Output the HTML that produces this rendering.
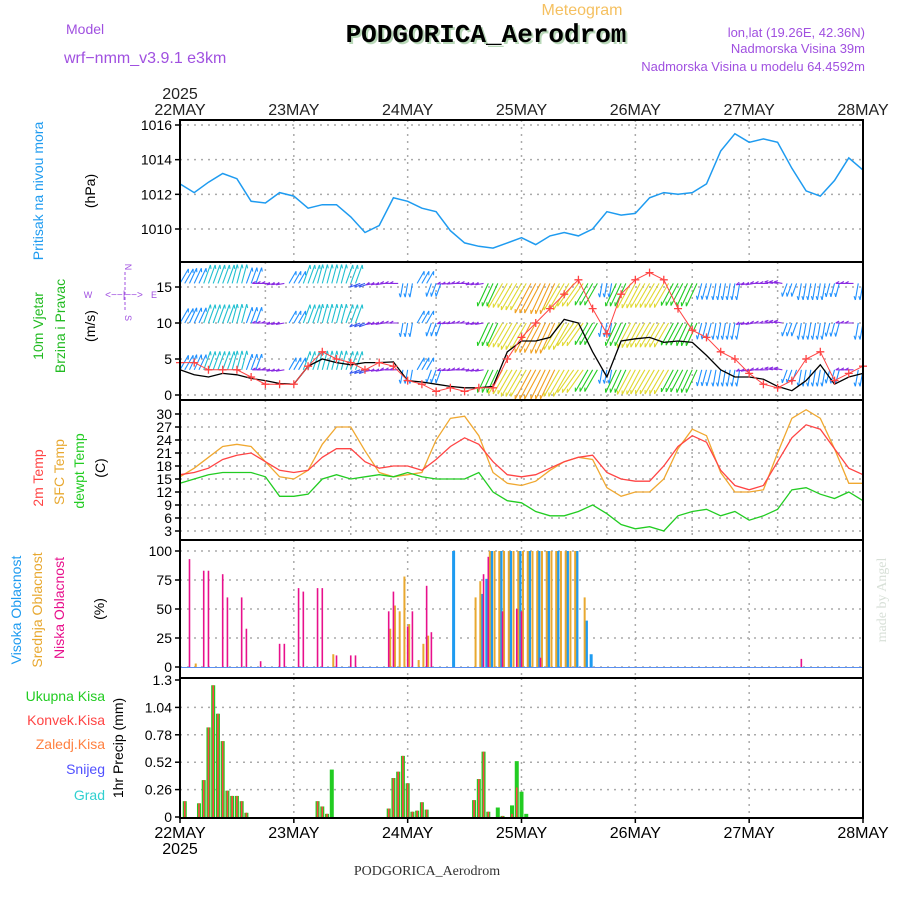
<!DOCTYPE html>
<html><head><meta charset="utf-8"><style>
html,body{margin:0;padding:0;background:#fff;}
svg{display:block;font-family:"Liberation Sans",sans-serif;}
</style></head><body>
<svg id="chart" width="900" height="900" viewBox="0 0 900 900" xmlns="http://www.w3.org/2000/svg">
<rect x="0" y="0" width="900" height="900" fill="#fff"/>
<text x="582" y="15" font-size="16" fill="#f5c060" text-anchor="middle">Meteogram</text>
<text x="66" y="34" font-size="14" fill="#a050e0">Model</text>
<text x="64" y="63" font-size="16" fill="#a050e0">wrf−nmm_v3.9.1  e3km</text>
<text x="488" y="44" font-size="26" font-weight="bold" fill="#b8d8b8" text-anchor="middle" font-family="Liberation Mono, monospace">PODGORICA_Aerodrom</text>
<text x="486" y="42" font-size="26" font-weight="bold" fill="#000" text-anchor="middle" font-family="Liberation Mono, monospace">PODGORICA_Aerodrom</text>
<text x="865" y="37" font-size="13" fill="#a050e0" text-anchor="end">lon,lat (19.26E, 42.36N)</text>
<text x="865" y="53" font-size="13" fill="#a050e0" text-anchor="end">Nadmorska Visina 39m</text>
<text x="865" y="71" font-size="13" fill="#a050e0" text-anchor="end">Nadmorska Visina u modelu 64.4592m</text>
<g id="grid"></g>
<g id="marks"></g>
<g id="frames"></g>
<g id="labels"></g>
</svg>
<script>
const days = ["22MAY","23MAY","24MAY","25MAY","26MAY","27MAY","28MAY"];
const pressure = [1012.6,1012.1,1012.7,1013.2,1012.9,1011.6,1011.5,1012.1,1011.9,1011.2,1011.4,1011.4,1010.7,1009.8,1010.2,1011.8,1011.6,1011.2,1011,1009.9,1009.2,1009,1008.9,1009.2,1009.5,1009.1,1009.6,1009.8,1009.6,1010,1011,1010.8,1010.9,1011.8,1012.1,1012,1012.1,1012.6,1014.5,1015.5,1015,1015.2,1015,1013.5,1012.2,1011.9,1012.8,1014.1,1013.4];
const temp2m = [16,16.5,17.5,19.5,20.5,21,19,17,16.5,17,20,22,22,19,17.5,18,18,17,19.5,22.5,24.5,23,19,16,15.5,16,17.5,19,20,20.5,16.5,15,14.5,14.5,18,22.5,25,23.5,17,13.5,12.5,13.5,19,24.5,27.5,26.5,22,17.5,16];
const tempSfc = [15.5,17.5,20,22.5,23,22.5,19,15.5,15,17,23,27,27,21.5,16.5,15.5,16,16.5,24,29,29.5,25,16.5,14,13.5,14.5,17,19,20,19.5,13,11,12,12,15,22,26.5,25,16.5,12,12,12.5,21,29,31,29,22,14,14];
const dewpt = [14,15,16,16.5,16.5,16.5,15.5,11,11,11.5,15,16,15,15.5,16,15.5,16.5,15.5,15,15,15,16.5,12,10,9.5,7.5,6.5,6.5,7.5,9,7,4.5,3.5,4,3,6.5,7.5,8,6.5,7.5,5.5,6.5,8,12.5,13,11.5,10.5,12,10];
const windSpeed = [3.5,2.8,2.5,3,2.8,2.3,2,1.6,1.5,4,5,4.5,4.2,4.5,4.5,4.6,2,1.8,1.5,1.2,1,1,1.2,6,7.5,7.5,8,10.5,10,6,2.5,7.5,7.8,8,7.3,7.5,7.3,5.5,3.5,2.5,2.5,2.2,1.2,0.6,2,4.2,1.5,2.5,3];
const windGust = [4.5,4.5,3.5,3.5,3.5,2.5,1.5,1.5,1.5,4,6,5,4.5,3.5,4.5,4,2,1.5,0.5,1,0.5,1,1,5,8,10,12,14,16,12,8.5,14,16,17,16,12,9,8,6,5,3,1.5,1,2,5,6,2,3,4];
const windDir = [-60,-65,-70,-70,-75,-70,180,170,-60,-70,-75,-75,-70,160,170,180,100,-60,110,175,180,170,115,120,120,118,115,120,125,120,100,115,118,120,120,118,115,105,100,100,170,180,-170,110,100,100,105,180,100];
const windMag = [6,6,7,7,7,6,3,3,5,7,7,7,7,4,3,3,5,5,5,3,3,3,9,10,11,12,12,11,10,9,5,9,10,10,10,9,9,6,6,6,3,3,3,5,6,6,5,3,6];
const cloudLowHours = [2,5,6,9,10,13,14,17,21,22,25,26,29,30,33,36,37,44,45,48,49,52,53,64,65,68,71,72,76,131];
const cloudLow = [93,83,83,80,60,60,33,5,20,20,68,65,68,68,10,10,10,48,65,35,48,70,30,80,95,48,50,48,8,7];
const cloudMidHours = [3,32,44,45,46,47,48,50,51,52,62,63,65,66,67,68,69,70,71,72,73,74,75,76,77,78,79,80,81,82,83,85];
const cloudMid = [3,11,33,53,48,78,37,6,20,27,60,74,100,100,100,100,100,100,100,100,100,100,100,100,100,100,100,100,100,100,100,60];
const cloudHighHours = [58,64,65,66,68,70,72,74,76,78,80,82,84,86,87];
const cloudHigh = [100,63,76,100,100,100,100,100,100,100,100,100,100,40,11];
const precipHours = [1,4,5,6,7,8,9,10,11,12,13,14,29,30,31,32,44,45,46,47,48,49,50,51,52,62,63,64,65,67,68,70,71,72,73];
const precipTotal = [0.15,0.13,0.35,0.85,1.25,0.98,0.72,0.25,0.2,0.2,0.15,0.04,0.15,0.1,0.03,0.45,0.08,0.37,0.43,0.58,0.32,0.05,0.06,0.14,0.07,0.16,0.36,0.62,0.05,0.09,0.01,0.11,0.53,0.24,0.03];
const precipConv = [0.15,0.13,0.35,0.85,1.25,0.98,0.72,0.25,0.2,0.2,0.15,0.04,0.15,0.1,0.03,0,0.08,0.37,0.43,0.58,0.32,0.05,0.06,0.14,0.07,0.16,0.36,0.62,0.05,0,0.01,0.03,0.28,0,0];

const NS="http://www.w3.org/2000/svg";
const X0=180,X1=863,TOT=144;
const X=h=>X0+h*(X1-X0)/TOT;
const P={pres:{top:120,bot:262},wind:{top:262,bot:400},temp:{top:400,bot:540},cloud:{top:540,bot:678},prec:{top:678,bot:818}};
const yPres=v=>229-(v-1010)*(104/6);
const yWind=v=>395-v*7.2;
const yTemp=v=>531-(v-3)*(117/27);
const yCloud=v=>667-v*1.16;
const yPrec=v=>817-v*(137/1.3);
const G={grid:document.getElementById('grid'),marks:document.getElementById('marks'),frames:document.getElementById('frames'),labels:document.getElementById('labels')};
function mk(tag,attrs,parent,text){const e=document.createElementNS(NS,tag);for(const k in attrs)e.setAttribute(k,attrs[k]);if(text!==undefined)e.textContent=text;parent.appendChild(e);return e;}
function hline(y,name){const e=mk('line',{x1:X0,x2:X1,y1:y,y2:y,stroke:'#aaa','stroke-width':1.5,'stroke-dasharray':'2,5'},G.grid);

}
function vline(x,p,name){const e=mk('line',{x1:x,x2:x,y1:p.top,y2:p.bot,stroke:'#aaa','stroke-width':1.5,'stroke-dasharray':'2,5'},G.grid);

}
function tick(y,label,name){const t=mk('line',{x1:X0-5,x2:X0,y1:y,y2:y,stroke:'#000','stroke-width':1.5},G.frames);


const l=mk('text',{x:X0-8,y:y+5,'font-size':14,'text-anchor':'end',fill:'#000'},G.labels,label);

}
function line(vals,yf,color,name,w){const pts=vals.map((v,i)=>X(i*3).toFixed(1)+','+yf(v).toFixed(1)).join(' ');
const e=mk('polyline',{points:pts,fill:'none',stroke:color,'stroke-width':w||1.3},G.marks);

}

[1010,1012,1014,1016].forEach(v=>hline(yPres(v),'pressure-gridline'));
[0,5,10,15].forEach(v=>hline(yWind(v),'wind-gridline'));
[3,6,9,12,15,18,21,24,27,30].forEach(v=>hline(yTemp(v),'temp-gridline'));
[0,25,50,75,100].forEach(v=>hline(yCloud(v),'cloud-gridline'));
[0.26,0.52,0.78,1.04].forEach(v=>hline(yPrec(v),'precip-gridline'));
for(let d=1;d<6;d++){vline(X(d*24),P.pres,'day-gridline');vline(X(d*24),P.cloud,'day-gridline');vline(X(d*24),P.prec,'day-gridline');}
for(let h=18;h<144;h+=18){vline(X(h),P.wind,'wind-time-gridline');vline(X(h),P.temp,'temp-time-gridline');}

line(pressure,yPres,'#1e9bf0','pressure-line',1.5);

const wcol=m=>m<4?'#8a2be2':m<5?'#3a5cf0':m<6.5?'#1e90ff':m<8?'#20c0d0':m<9.5?'#22cc22':m<11.5?'#e0d830':'#f0a020';
const rows=[yWind(15.5),yWind(10),yWind(3.5)];
for(let h=0;h<=144;h++){
  const i=Math.min(48,Math.round(h/3));
  const m=windMag[i],a=windDir[i]*Math.PI/180,len=m*2.8;
  rows.forEach((ry)=>{
    const x=X(h),x2=x+Math.cos(a)*len,y2=Math.max(263,Math.min(399,ry+Math.sin(a)*len));
    const e=mk('path',{d:`M${x},${ry}L${x2},${y2}M${x2},${y2}L${x2-Math.cos(a-0.5)*4},${y2-Math.sin(a-0.5)*4}`,fill:'none',stroke:wcol(m),'stroke-width':1.1},G.marks);
    
    
  });
}
line(windSpeed,yWind,'#000','wind-speed-line',1.3);
line(windGust,yWind,'#ff4444','wind-gust-line',1);
windGust.forEach((v,i)=>{const x=X(i*3),y=yWind(v);
const e=mk('path',{d:`M${x-4},${y}H${x+4}M${x},${y-4}V${y+4}`,stroke:'#ff4444','stroke-width':1.3},G.marks);

});

line(tempSfc,yTemp,'#f0a830','sfc-temp-line',1.3);
line(temp2m,yTemp,'#ff4444','temp-2m-line',1.3);
line(dewpt,yTemp,'#22cc22','dewpt-line',1.3);

function bars(hours,vals,yf,color,w,off,name){hours.forEach((h,i)=>{const x=X(h)+off,y=yf(vals[i]),y0=yf(0);
const e=mk('rect',{x:x-w/2,y:y,width:w,height:Math.max(0,y0-y),fill:color},G.marks);

});}
bars(cloudHighHours,cloudHigh,yCloud,'#1e9bf0',3,-1.5,'high-cloud-bar');
bars(cloudMidHours,cloudMid,yCloud,'#e8a830',2,1.5,'mid-cloud-bar');
bars(cloudLowHours,cloudLow,yCloud,'#e8108c',1.6,0,'low-cloud-bar');
const base=mk('line',{x1:X0,x2:X1,y1:yCloud(0)+0.5,y2:yCloud(0)+0.5,stroke:'#5a8ff0','stroke-width':1},G.marks);



bars(precipHours,precipTotal,yPrec,'#22cc22',4,0,'total-precip-bar');
bars(precipHours,precipConv,yPrec,'#ff4444',1.6,0,'convective-precip-bar');

Object.keys(P).forEach(k=>{const p=P[k];const r=mk('rect',{x:X0,y:p.top,width:X1-X0,height:p.bot-p.top,fill:'none',stroke:'#000','stroke-width':2},G.frames);

});
[1010,1012,1014,1016].forEach(v=>tick(yPres(v),String(v),'pressure-axis'));
[0,5,10,15].forEach(v=>tick(yWind(v),String(v),'wind-axis'));
[3,6,9,12,15,18,21,24,27,30].forEach(v=>tick(yTemp(v),String(v),'temp-axis'));
[0,25,50,75,100].forEach(v=>tick(yCloud(v),String(v),'cloud-axis'));
[[0,'0'],[0.26,'0.26'],[0.52,'0.52'],[0.78,'0.78'],[1.04,'1.04'],[1.3,'1.3']].forEach(a=>tick(yPrec(a[0]),a[1],'precip-axis'));
days.forEach((d,i)=>{const x=X(i*24);
const t=mk('text',{x:x,y:115,'font-size':16,'text-anchor':'middle',fill:'#222'},G.labels,d);


const b=mk('text',{x:x,y:838,'font-size':16,'text-anchor':'middle',fill:'#000'},G.labels,d);


const tk=mk('line',{x1:x,x2:x,y1:818,y2:823,stroke:'#000','stroke-width':1.5},G.frames);

});
</script>
<svg width="900" height="900" style="position:absolute;left:0;top:0" xmlns="http://www.w3.org/2000/svg" font-family="Liberation Sans, sans-serif">
<text x="180" y="99" font-size="16" text-anchor="middle" fill="#222">2025</text>
<text x="180" y="854" font-size="16" text-anchor="middle" fill="#000">2025</text>
<text x="427" y="875" font-size="14" text-anchor="middle" fill="#333" font-family="Liberation Serif, serif">PODGORICA_Aerodrom</text>
<text transform="translate(43,191) rotate(-90)" font-size="14" fill="#1e9bf0" text-anchor="middle">Pritisak na nivou mora</text>
<text transform="translate(95,191) rotate(-90)" font-size="14" fill="#000" text-anchor="middle">(hPa)</text>
<text transform="translate(43,326) rotate(-90)" font-size="14" fill="#22bb22" text-anchor="middle">10m Vjetar</text>
<text transform="translate(65,326) rotate(-90)" font-size="14" fill="#22bb22" text-anchor="middle">Brzina i Pravac</text>
<text transform="translate(95,326) rotate(-90)" font-size="14" fill="#000" text-anchor="middle">(m/s)</text>
<g fill="#a050e0" font-size="9" text-anchor="middle">
<text x="88" y="298">W</text><text x="154" y="298">E</text>
<text transform="translate(125,267) rotate(90)">N</text><text transform="translate(125,318) rotate(90)">S</text>
<text x="124" y="298" font-size="10">&lt;−−|−−&gt;</text>
<line x1="125" y1="272" x2="125" y2="312" stroke="#a050e0" stroke-dasharray="3,2"/>
</g>
<text transform="translate(43,478) rotate(-90)" font-size="14" fill="#ff4444" text-anchor="middle">2m Temp</text>
<text transform="translate(64,472) rotate(-90)" font-size="14" fill="#e8a830" text-anchor="middle">SFC Temp</text>
<text transform="translate(84,471) rotate(-90)" font-size="14" fill="#22cc22" text-anchor="middle">dewpt Temp</text>
<text transform="translate(105,468) rotate(-90)" font-size="14" fill="#000" text-anchor="middle">(C)</text>
<text transform="translate(21,610) rotate(-90)" font-size="14" fill="#1e9bf0" text-anchor="middle">Visoka Oblacnost</text>
<text transform="translate(42,610) rotate(-90)" font-size="14" fill="#e8a830" text-anchor="middle">Srednja Oblacnost</text>
<text transform="translate(64,608) rotate(-90)" font-size="14" fill="#e8108c" text-anchor="middle">Niska Oblacnost</text>
<text transform="translate(104,609) rotate(-90)" font-size="14" fill="#000" text-anchor="middle">(%)</text>
<text x="105" y="701" font-size="14" fill="#22cc22" text-anchor="end">Ukupna  Kisa</text>
<text x="105" y="725" font-size="14" fill="#ff4444" text-anchor="end">Konvek.Kisa</text>
<text x="105" y="749" font-size="14" fill="#ff8040" text-anchor="end">Zaledj.Kisa</text>
<text x="105" y="774" font-size="14" fill="#5050ff" text-anchor="end">Snijeg</text>
<text x="105" y="800" font-size="14" fill="#30d0d0" text-anchor="end">Grad</text>
<text transform="translate(123,748) rotate(-90)" font-size="14" fill="#000" text-anchor="middle">1hr Precip (mm)</text>
<text transform="translate(886,600) rotate(-90)" font-size="14" fill="#d8e0d8" text-anchor="middle" font-family="Liberation Serif, serif">made by Angel</text>
</svg>
</body></html>
